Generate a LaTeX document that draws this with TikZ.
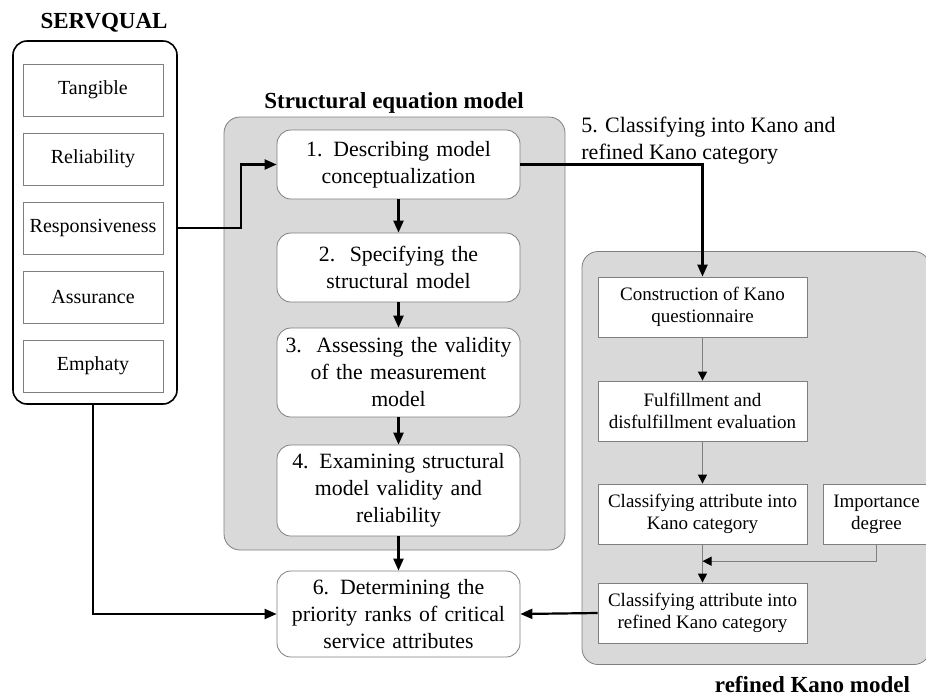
\documentclass[tikz,border=0pt]{standalone}
\usepackage{fontspec}
\setmainfont{Liberation Serif}
\usetikzlibrary{arrows.meta}
\definecolor{panelgray}{HTML}{D9D9D9}
\definecolor{linegray}{HTML}{7F7F7F}

\begin{document}
\begin{tikzpicture}[x=0.5pt,y=-0.5pt,
    dimbox/.style={draw=linegray,fill=white,minimum width=70pt,minimum height=26pt,inner sep=0pt,font=\fontsize{10}{12}\selectfont},
    stepbox/.style={draw=linegray,fill=white,rounded corners=7pt,text width=121.5pt,align=center,inner sep=0pt,font=\fontsize{10.9}{13.5}\selectfont},
    kanobox/.style={draw=linegray,fill=white,minimum width=104.5pt,minimum height=30pt,inner sep=0pt,align=center,font=\fontsize{9.5}{11}\selectfont},
    panel/.style={draw=linegray,fill=panelgray,rounded corners=8pt,inner sep=0pt},
    heading/.style={font=\fontsize{11.5}{13}\selectfont\bfseries,inner sep=0pt},
    mainarrow/.style={line width=1.1pt,-{Triangle[length=6pt,width=5pt]}},
    kanoarrow/.style={draw=linegray,line width=0.5pt,-{Triangle[length=4.5pt,width=4.5pt,color=black]}}]
    \useasboundingbox (0,0) rectangle (926,697);
    % SERVQUAL dimensions
    \node[heading,anchor=base] (servqtitle) at (104,28) {SERVQUAL};
    \node[draw,line width=0.8pt,rounded corners=7pt,minimum width=82pt,minimum height=181.5pt,inner sep=0pt] (servq) at (95,222.5) {};
    \foreach \lab/\nm [count=\i from 0] in {Tangible/tang,Reliability/reli,Responsiveness/resp,Assurance/assu,Emphaty/emph}
        {\node[dimbox] (\nm) at (93,90+69*\i) {\lab};}
    % structural equation model
    \node[panel,minimum width=170.5pt,minimum height=216.5pt] (sem) at (394.5,333.5) {};
    \node[heading,anchor=base] (semtitle) at (394,108) {Structural equation model};
    \node[stepbox,minimum height=34.5pt] (step1) at (398.5,164.5) {1. Describing model\\conceptualization};
    \node[stepbox,minimum height=34.5pt] (step2) at (398.5,267.5) {2.\ \ Specifying the\\structural model};
    \node[stepbox,minimum height=44.5pt] (step3) at (398.5,372.5) {3.\ \ Assessing the validity\\of the measurement\\model};
    \node[stepbox,minimum height=45.5pt] (step4) at (398.5,490.5) {4. Examining structural\\model validity and\\reliability};
    \node[stepbox,minimum height=43pt] (step6) at (398.5,614) {6. Determining the\\priority ranks of critical\\service attributes};
    % refined Kano model (runs past the right edge)
    \node[panel,minimum width=174pt,minimum height=206.5pt] (kano) at (756,458) {};
    \node[heading,anchor=base] (kanotitle) at (812.5,692) {refined Kano model};
    \node[anchor=north west,align=left,inner sep=0pt,font=\fontsize{11}{13.5}\selectfont] (step5) at (581,117) {5. Classifying into Kano and\\refined Kano category};
    \node[kanobox] (constr) at (702.5,307) {Construction of Kano\\questionnaire};
    \node[kanobox] (fulfil) at (702.5,411) {Fulfillment and\\disfulfillment evaluation};
    \node[kanobox] (classk) at (702.5,514) {Classifying attribute into\\Kano category};
    \node[kanobox,minimum width=53.5pt] (imp) at (876.5,514) {Importance\\degree};
    \node[kanobox] (classr) at (702.5,613) {Classifying attribute into\\refined Kano category};
    \path (classk.south) -- (classr.north) coordinate[pos=0.44] (kmid);

    \draw[mainarrow] (resp -| servq.east) -- ++(63,0) |- (step1.west);
    \draw[mainarrow] (step1.east) -| (constr.north);
    \foreach \a/\b in {step1/step2,step2/step3,step3/step4,step4/step6}
        {\draw[mainarrow] (\a.south) -- (\b.north);}
    \draw[mainarrow] (servq.south -| emph) |- (step6.west);
    \draw[mainarrow] (classr.west) -- (step6.east);
    \draw[kanoarrow] (constr) -- (fulfil);
    \draw[kanoarrow] (fulfil) -- (classk);
    \draw[kanoarrow] (classk) -- (classr);
    \draw[kanoarrow] (imp.south) |- (kmid);
\end{tikzpicture}
\end{document}
